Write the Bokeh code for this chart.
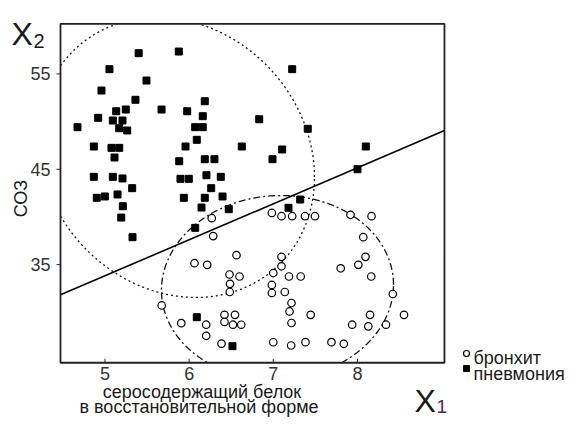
import numpy as np
from bokeh.plotting import figure
from bokeh.models import Range1d
from bokeh.core.properties import value
from bokeh.embed import file_html
from bokeh.resources import INLINE

# ---- data ----
pn_x = [5.40, 5.877, 7.225, 5.053, 5.493, 4.958, 5.362, 6.186, 5.133, 5.247, 5.672, 5.977,
        4.919, 5.093, 5.208, 6.162, 6.833, 4.673, 5.169, 5.264, 6.072, 6.162, 7.41, 6.091,
        4.867, 5.077, 5.169, 5.957, 6.626, 7.106, 8.10, 5.113, 6.991, 5.882, 6.186, 6.301,
        8.001, 4.867, 5.093, 5.208, 5.897, 5.996, 6.206, 6.376, 6.262, 5.323, 4.902, 4.998,
        5.149, 5.937, 6.186, 6.397, 5.212, 6.147, 6.471, 5.193, 5.327, 6.072, 7.32, 7.181,
        6.091, 6.515]
pn_y = [57.18, 57.35, 55.50, 55.50, 54.31, 53.26, 52.29, 52.14, 51.09, 51.27, 51.27, 51.09,
        50.40, 50.12, 50.12, 50.57, 50.25, 49.42, 49.31, 49.07, 49.42, 49.42, 49.25, 48.09,
        47.39, 47.25, 47.25, 47.39, 47.39, 47.08, 47.39, 46.24, 46.06, 45.85, 46.06, 46.06,
        45.01, 44.21, 44.21, 44.04, 44.00, 44.00, 44.38, 44.21, 43.02, 43.02, 42.01, 42.15,
        42.36, 42.01, 42.01, 42.15, 41.13, 40.99, 40.82, 39.94, 37.88, 38.86, 41.83, 40.96,
        29.49, 26.45]

br_x = [6.269, 6.286, 6.563, 6.064, 6.215, 6.48, 6.599, 6.486, 6.483, 6.983, 7.098, 7.225,
        7.377, 7.496, 7.918, 8.168, 8.070, 7.098, 7.098, 7.0, 6.983, 6.983, 7.137, 7.187,
        7.326, 7.217, 7.193, 7.217, 7.445, 5.674, 5.907, 6.203, 6.203, 6.42, 6.545, 6.42,
        6.521, 6.619, 6.385, 7.0, 7.213, 7.383, 7.692, 7.838, 7.802, 8.011, 8.096, 8.165,
        8.421, 8.15, 8.554, 7.938, 8.130, 8.34]
br_y = [39.87, 38.0, 35.99, 35.15, 34.98, 33.97, 33.76, 32.99, 32.13, 40.42, 40.08, 40.08,
        40.08, 40.08, 40.23, 40.08, 37.88, 35.82, 34.83, 34.12, 32.87, 32.03, 32.13, 33.76,
        33.76, 30.98, 30.09, 28.88, 29.74, 30.72, 28.86, 28.70, 27.54, 29.74, 29.74, 28.99,
        28.70, 28.70, 26.71, 26.86, 26.52, 26.87, 26.87, 26.70, 34.62, 34.98, 35.82, 33.76,
        31.92, 29.74, 29.74, 28.70, 28.53, 28.70]

# group ellipses: pneumonia, bronchitis (centre, half-extents, correlation)
ell_cx = [5.85, 7.05]
ell_cy = [46.24, 32.60]
ell_w = [1.64, 1.379]
ell_h = [14.68, 9.65]
ell_rho = [-0.14, 0.03]
ell_dash = ["2 3", "7 3 2 3"]

# discriminant line y = a + b*x
disc_a = 14.96
disc_b = 3.775

x_ticks = [5, 6, 7, 8]
y_ticks = [35, 45, 55]
x_tick_labels = ["5", "6", "7", "8"]
y_tick_labels = ["35", "45", "55"]
x_lo, x_hi = 4.471, 9.035          # plotting-area limits
y_lo, y_hi = 24.71, 60.26

legend_labels = ["бронхит", "пневмония"]
x_title = ["серосодержащий  белок", "в восстановительной  форме"]
y_title = "СОЗ"

FONT = "Liberation Sans"
TXT = "#1a1a1a"
W, H = 570, 418
PXX, PXY = 84.13, 9.535   # pixels per data unit

# canvas-pixel layout helpers (plotting area: left = 60, top = 23.3)
def X(px):
    return x_lo + (px - 60) / PXX

def Y(py):
    return y_hi - (py - 23.3) / PXY

p = figure(width=W, height=H, output_backend="svg", toolbar_location=None,
           x_range=Range1d(X(0), X(W)), y_range=Range1d(Y(H), Y(0)),
           x_axis_type=None, y_axis_type=None,
           min_border=0, min_border_left=0, min_border_right=0,
           min_border_top=0, min_border_bottom=0)
p.xgrid.visible = False
p.ygrid.visible = False
p.outline_line_color = None
p.background_fill_color = "white"
p.border_fill_color = "white"

# ellipses, clipped to the plotting area
t = np.linspace(0, 2 * np.pi, 4000)
for cx, cy, w, h, r, d in zip(ell_cx, ell_cy, ell_w, ell_h, ell_rho, ell_dash):
    delta = np.arccos(r)
    ex = cx + w * np.cos(t)
    ey = cy + h * np.cos(t - delta)
    out = (ex < x_lo) | (ex > x_hi) | (ey < y_lo) | (ey > y_hi)
    ex[out] = np.nan
    ey[out] = np.nan
    p.line(ex, ey, line_color="#111111", line_width=1.3, line_dash=d)

# discriminant line
lx = np.array([x_lo, x_hi])
p.line(lx, disc_a + disc_b * lx, line_color="black", line_width=1.6)

# points
p.scatter(pn_x, pn_y, marker="square", size=7, fill_color="black", line_color="black")
p.scatter(br_x, br_y, marker="circle", size=7.5, fill_color="white", line_color="black",
          line_width=1.2)

# plotting-area frame
p.quad(left=[x_lo], right=[x_hi], bottom=[y_lo], top=[y_hi], fill_color=None,
       line_color="#222222", line_width=1.8)

# ticks
p.segment(x0=x_ticks, x1=x_ticks, y0=[y_lo] * len(x_ticks),
          y1=[y_lo + 4 / PXY] * len(x_ticks), line_color="#222222", line_width=1)
p.segment(x0=[x_lo - 4 / PXX] * len(y_ticks), x1=[x_lo] * len(y_ticks),
          y0=y_ticks, y1=y_ticks, line_color="#222222", line_width=1)
p.text(x=x_ticks, y=[Y(366)] * len(x_ticks), text=x_tick_labels,
       text_font=value(FONT), text_font_size=value("18px"), text_color="#333333",
       text_align="center", text_baseline="top")
p.text(x=[X(50)] * len(y_ticks), y=y_ticks, text=y_tick_labels,
       text_font=value(FONT), text_font_size=value("18px"), text_color="#333333",
       text_align="right", text_baseline="middle")

def lab(px, py, text, size, align="left", angle=0.0, color=TXT, baseline="alphabetic"):
    p.text(x=[X(px)], y=[Y(py)], text=[text], text_font=value(FONT),
           text_font_size=value(size), text_align=align, text_baseline=baseline,
           text_color=color, angle=angle)

# axis names
lab(11, 33, "X", "32px")
lab(33, 40, "2", "20px")
lab(414, 400, "X", "32px")
lab(436, 406, "1", "19px", color="#4a2a55")
lab(20, 198, y_title, "18px", align="center", angle=np.pi / 2, baseline="middle")
lab(204, 391, x_title[0], "18px", align="center")
lab(201, 406, x_title[1], "18px", align="center")

# legend
p.scatter([X(466)], [Y(353)], marker="circle", size=6, fill_color="white",
          line_color="black", line_width=1.2)
p.scatter([X(466)], [Y(368)], marker="square", size=6, fill_color="black",
          line_color="black")
lab(473, 357, legend_labels[0], "18px")
lab(473, 373, legend_labels[1], "18px")

open("out.html", "w").write(file_html(p, INLINE))
